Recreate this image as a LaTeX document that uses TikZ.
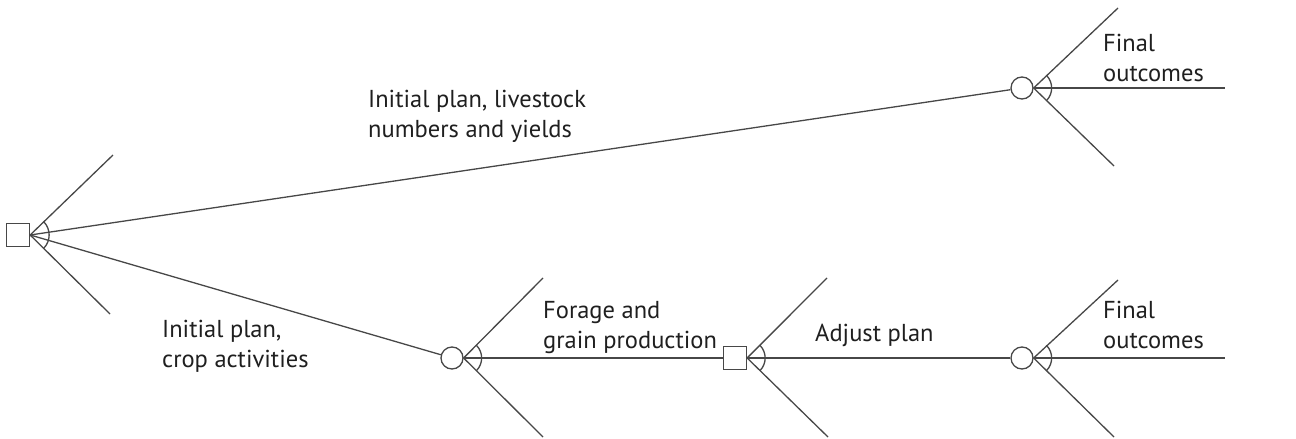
\documentclass[tikz,border=0pt]{standalone}
\usepackage{fontspec}
\setmainfont{PT Sans}
\begin{document}
\begin{tikzpicture}[x=1pt,y=-1pt,
    branch/.style={draw=black!72,line width=1.3pt},
    decision/.style={branch,rectangle,minimum size=23pt,inner sep=0pt},
    chance/.style={branch,circle,minimum size=22pt,inner sep=0pt},
    lbl/.style={anchor=base west,align=left,inner sep=0pt,text=black!88,
      font=\fontsize{24.5}{30}\selectfont}]
      \useasboundingbox (0,0) rectangle (1296,439);
      %% Decision and chance nodes
      \node[decision] (d0) at (18,235) {};
      \node[chance] (c1) at (1022,88) {};
      \node[chance] (c2) at (452,358) {};
      \node[decision] (d1) at (735,358) {};
      \node[chance] (c3) at (1022,358) {};
      %% Loose branch ends
      \coordinate (d0u) at (113,155);
      \coordinate (d0d) at (110,314);
      \coordinate (c1u) at (1118,8);
      \coordinate (c1m) at (1225,88);
      \coordinate (c1d) at (1114,166);
      \coordinate (c2u) at (543,278);
      \coordinate (c2d) at (543,437);
      \coordinate (d1u) at (827,278);
      \coordinate (d1d) at (828,437);
      \coordinate (c3u) at (1118,280);
      \coordinate (c3m) at (1225,358);
      \coordinate (c3d) at (1114,437);
      %% Connecting branches
      \draw[branch] (d0.east) -- (c1);
      \draw[branch] (d0.east) -- (c2);
      \draw[branch] (c2.east) -- (d1.west);
      \draw[branch] (d1.east) -- (c3.west);
      %% Open branches
      \draw[branch] (d0.east) -- (d0u);
      \draw[branch] (d0.east) -- (d0d);
      \draw[branch] (c1.east) -- (c1u);
      \draw[branch] (c1.east) -- (c1m);
      \draw[branch] (c1.east) -- (c1d);
      \draw[branch] (c2.east) -- (c2u);
      \draw[branch] (c2.east) -- (c2d);
      \draw[branch] (d1.east) -- (d1u);
      \draw[branch] (d1.east) -- (d1d);
      \draw[branch] (c3.east) -- (c3u);
      \draw[branch] (c3.east) -- (c3m);
      \draw[branch] (c3.east) -- (c3d);
      %% Arcs across the branches
      \draw[branch] ([shift={(-45:19pt)}]d0.east) arc[start angle=-45,end angle=45,radius=19pt];
      \draw[branch] ([shift={(-45:18pt)}]c1.east) arc[start angle=-45,end angle=45,radius=18pt];
      \draw[branch] ([shift={(-45:18pt)}]c2.east) arc[start angle=-45,end angle=45,radius=18pt];
      \draw[branch] ([shift={(-45:18pt)}]d1.east) arc[start angle=-45,end angle=45,radius=18pt];
      \draw[branch] ([shift={(-45:18pt)}]c3.east) arc[start angle=-45,end angle=45,radius=18pt];
      %% Labels (base is the last line)
      \node[lbl] (t1) at (368,137) {Initial plan, livestock\\numbers and yields};
      \node[lbl] (t2) at (162,367) {Initial plan,\\crop activities};
      \node[lbl] (t3) at (543,348) {Forage and\\grain production};
      \node[lbl] (t4) at (815,341) {Adjust plan};
      \node[lbl] (t5) at (1103,81) {Final\\outcomes};
      \node[lbl] (t6) at (1103,348) {Final\\outcomes};
    \end{tikzpicture}
\end{document}
